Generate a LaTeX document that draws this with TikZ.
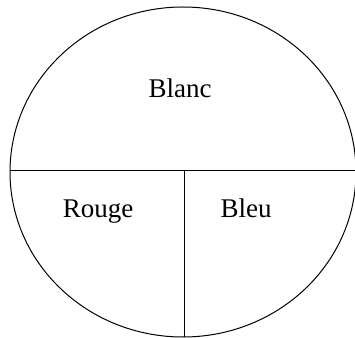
\documentclass[tikz,border=0pt]{standalone}
\usepackage{fontspec}
\setmainfont{Liberation Serif}
\begin{document}
\begin{tikzpicture}[x=1pt,y=1pt,
    label text/.style={anchor=base,inner sep=0pt,font=\fontsize{27}{32}\selectfont}]
  \useasboundingbox (0,0) rectangle (355,337);
  \clip (0,0) rectangle (355,337);
  % outline
  \draw[line width=1pt] (183,165) ellipse [x radius=173pt, y radius=165pt];
  \coordinate (west) at (10,166);
  \coordinate (east) at (356,166);
  \coordinate (mid) at (184,166);
  \coordinate (south) at (184,0);
  \draw[line width=1pt] (west) -- (east);
  \draw[line width=1pt] (mid) -- (south);
  % labels
  \node[label text] (blanc) at (180,239) {Blanc};
  \node[label text] (rouge) at (98,119) {Rouge};
  \node[label text] (bleu) at (246,119) {Bleu};
\end{tikzpicture}
\end{document}
